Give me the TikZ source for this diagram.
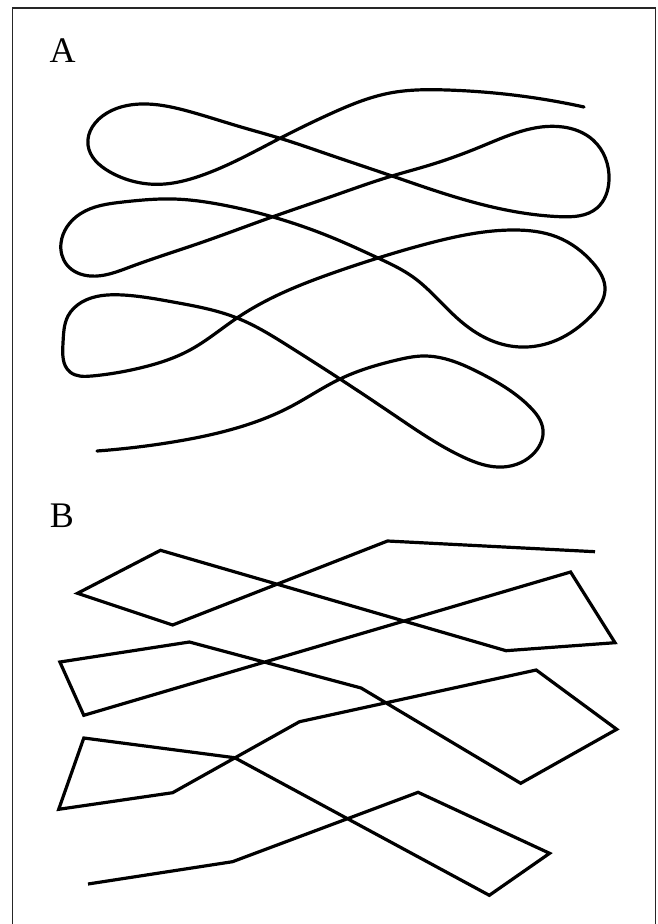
\documentclass[tikz,border=0pt]{standalone}
\usepackage{fontspec}
\setmainfont{Liberation Serif}
\usetikzlibrary{hobby}
\begin{document}
\begin{tikzpicture}[x=0.5pt,y=-0.5pt,
  frameline/.style={line width=0.6pt, draw=black!85},
  strand/.style={line width=1.6pt, line join=round, line cap=round},
  panellabel/.style={font=\fontsize{18}{20}\selectfont, inner sep=0pt}]
\useasboundingbox (0,0) rectangle (657,924);
% frame
\draw[frameline] (12.7,930) -- (12.7,8) -- (655.7,8) -- (655.7,930);
% labels
\node[panellabel] (labA) at (62.5,50.5) {A};
\node[panellabel] (labB) at (62,515.5) {B};
% Panel A: smooth strand
\draw[strand, use Hobby shortcut]
 (584,107) .. (513,95) .. (447,90) .. (390,93) .. (330,114) .. (280,138.3)
 .. (200,176) .. (160,184.3) .. (110,172) .. (88,145) .. (107,113) .. (147,104)
 .. (190,111.7) .. (240,126.7) .. (280,138.3) .. (330,155) .. (392,176) .. (430,189)
 .. (480,204) .. (560,216.7) .. (597,208) .. (609,180) .. (593,140) .. (563,127)
 .. (480,147) .. (430,165) .. (392,176) .. (330,197) .. (273,216.7)
 .. (200,243) .. (130,267) .. (90,276) .. (67,265) .. (61,243) .. (80,214)
 .. (123,202) .. (173,199) .. (223,205) .. (273,217)
 .. (330,236.7) .. (378,258) .. (413,277) .. (457,318) .. (490,340) .. (520,347)
 .. (557,340) .. (590,317) .. (605,290) .. (593,263) .. (557,237) .. (513,230)
 .. (430,243) .. (378,258) .. (330,274) .. (280,294) .. (237,318) .. (190,350)
 .. (140,368) .. (92,376) .. (70,372) .. (63,343) .. (68,316) .. (82,302) .. (123,295) .. (173,302)
 .. (237,318) .. (290,347) .. (340,379) .. (397,417) .. (463,457) .. (503,467)
 .. (535,452) .. (543,430) .. (530,407) .. (480,373) .. (423,356) .. (397,360)
 .. (340,379) .. (290,407) .. (240,427) .. (173,442) .. (97,451);
% Panel B: polygonal strand
\draw[strand, line cap=butt, line join=miter] (595,551.7) -- (387.5,541) -- (172.6,625) -- (77.5,593.3)
 -- (160.5,550.3) -- (506,650.7) -- (615,642.7) -- (570.6,572)
 -- (83.8,715.3) -- (59.9,662) -- (189.4,642) -- (361.1,688)
 -- (520.7,783.3) -- (616.7,729.3) -- (536.2,670) -- (299.5,721.7)
 -- (172.6,792.7) -- (58.7,809.3) -- (83.8,738) -- (234.6,757.7)
 -- (489.3,895.3) -- (549.6,853.3) -- (418.1,792.3) -- (232.5,861.7)
 -- (88,884);
\end{tikzpicture}
\end{document}
